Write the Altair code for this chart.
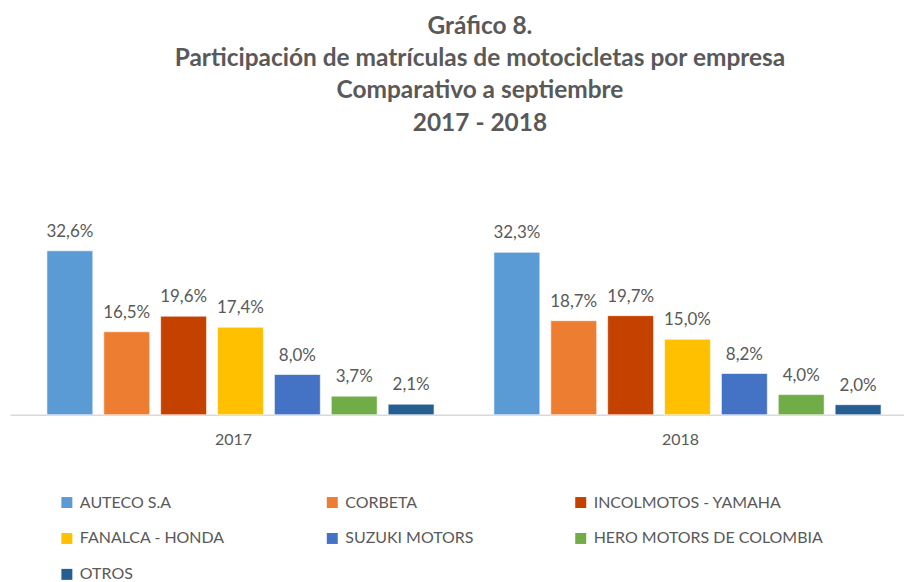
import altair as alt
import pandas as pd

years = ["2017", "2018"]
companies = ["AUTECO S.A", "CORBETA", "INCOLMOTOS - YAMAHA", "FANALCA - HONDA",
             "SUZUKI MOTORS", "HERO MOTORS DE COLOMBIA", "OTROS"]
values_2017 = [32.6, 16.5, 19.6, 17.4, 8.0, 3.7, 2.1]
values_2018 = [32.3, 18.7, 19.7, 15.0, 8.2, 4.0, 2.0]
colors = ["#5B9BD5", "#ED7D31", "#C44100", "#FFC000", "#4472C4", "#70AD47", "#255E91"]

rows = []
for y, vals in zip(years, [values_2017, values_2018]):
    for i, (c, v) in enumerate(zip(companies, vals)):
        rows.append({"year": y, "company": c, "order": i, "value": v,
                     "label": f"{v:.1f}".replace(".", ",") + "%"})
df = pd.DataFrame(rows)

FONT = "Lato"
GREY = "#595959"

x = alt.X("year:N", title=None, sort=years,
          scale=alt.Scale(domain=years, paddingInner=0, paddingOuter=0),
          axis=alt.Axis(labelAngle=0, labelFont=FONT, labelFontSize=16, labelColor=GREY,
                        domainColor="#D9D9D9", domainWidth=1.5, ticks=False, labelPadding=17))
xo = alt.XOffset("company:N", sort=companies,
                 scale=alt.Scale(range=[37, 425], paddingInner=0.193, paddingOuter=0))
y = alt.Y("value:Q", axis=None, scale=alt.Scale(domain=[0, 50]))

bars = alt.Chart(df).mark_bar(stroke="white", strokeWidth=0.6).encode(
    x=x, xOffset=xo, y=y,
    color=alt.Color("company:N", sort=companies,
                    scale=alt.Scale(domain=companies, range=colors),
                    legend=alt.Legend(title=None, orient="none", legendX=49, legendY=332,
                                      direction="horizontal", columns=3, gridAlign="each",
                                      columnPadding=99, rowPadding=20, padding=0,
                                      symbolType="square", symbolSize=121, symbolStrokeWidth=0,
                                      labelFont=FONT, labelFontSize=16, labelColor=GREY,
                                      labelOffset=5, labelLimit=300)),
)

labels = alt.Chart(df).mark_text(font=FONT, fontSize=17, color=GREY,
                                 baseline="alphabetic", dy=-14).encode(
    x=x, xOffset=xo, y=y, text="label:N"
)

chart = alt.layer(bars, labels).properties(
    width=896, height=252,
    padding={"left": 2, "top": 5, "right": 0, "bottom": 0},
    title=alt.TitleParams(
        text=["Gráfico 8.", "Participación de matrículas de motocicletas por empresa",
              "Comparativo a septiembre", "2017 - 2018"],
        font=FONT, fontSize=24.5, fontWeight="bold", color=GREY,
        lineHeight=32.5, anchor="middle", dx=23, offset=27),
).configure_view(stroke=None)

chart.save("out.html", embed_options={"renderer": "svg", "actions": False})
